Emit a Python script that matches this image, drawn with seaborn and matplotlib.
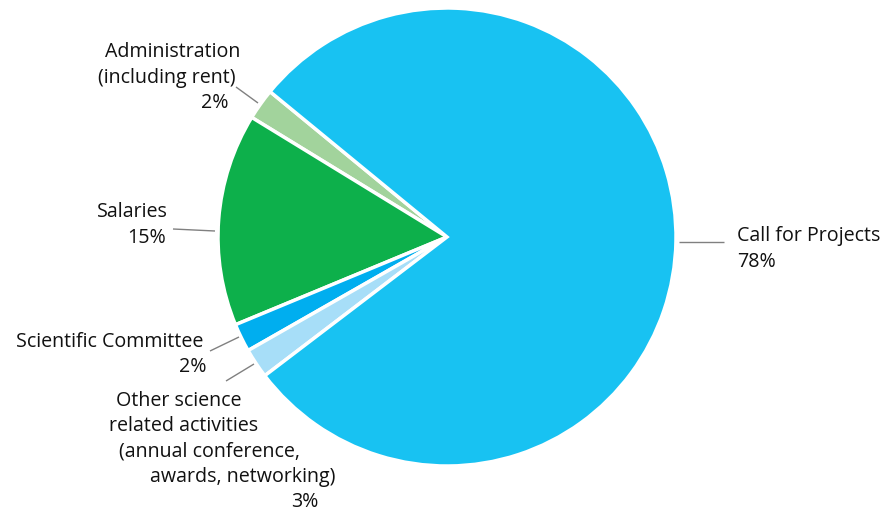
import matplotlib
matplotlib.use("Agg")
import matplotlib.pyplot as plt
import seaborn as sns

# Data
categories = ["Administration\n(including rent)", "Salaries", "Scientific Committee",
              "Other science related activities", "Call for Projects"]
values = [2.2, 15.0, 2.0, 2.1, 78.7]
pct_labels = ["2%", "15%", "2%", "3%", "78%"]
colors = ["#A2D39C", "#0DB04B", "#00AEEF", "#A7DEF8", "#18C2F2"]

sns.set_theme(style="white")
plt.rcParams["font.family"] = ["Open Sans", "DejaVu Sans"]

W, H = 886, 514
fig = plt.figure(figsize=(W / 100, H / 100), dpi=100)
cx, cy, R = 447, 237, 229
ax = fig.add_axes([(cx - R) / W, (H - cy - R) / H, 2 * R / W, 2 * R / H])
ax.pie(values, colors=colors, startangle=140.6, counterclock=True,
       wedgeprops=dict(edgecolor="white", linewidth=2.5))
ax.set_xlim(-1, 1)
ax.set_ylim(-1, 1)
ax.set_aspect("equal")
ax.axis("off")


def d(px, py):
    return (px - cx) / R, (cy - py) / R


fs = 14.1
line_kw = dict(color="#808080", lw=1, solid_capstyle="butt")


def seg(p1, p2):
    (x1, y1), (x2, y2) = d(*p1), d(*p2)
    ax.plot([x1, x2], [y1, y2], clip_on=False, **line_kw)


def txt(px, py, s, ha):
    x, y = d(px, py)
    ax.text(x, y, s, ha=ha, va="center", fontsize=fs, color="#111111", clip_on=False)


# Call for Projects
seg((679, 242), (724, 242))
txt(737, 236, categories[4], "left")
txt(737, 262, pct_labels[4], "left")

# Administration
seg((236, 87), (258, 103))
txt(240, 52, "Administration", "right")
txt(236, 78, "(including rent)", "right")
txt(229, 103, pct_labels[0], "right")

# Salaries
seg((173, 229), (215, 231))
txt(168, 212, categories[1], "right")
txt(166, 238, pct_labels[1], "right")

# Scientific Committee
seg((210, 351), (239, 337))
txt(203, 342, categories[2], "right")
txt(206, 367, pct_labels[2], "right")

# Other science related activities
seg((226, 381), (254, 364))
other_lines = ["Other science", "related activities", "(annual conference,",
               "awards, networking)"]
other_right = [242, 258, 300, 335]
other_y = [401, 426, 451, 477]
for s, r, y in zip(other_lines, other_right, other_y):
    txt(r, y, s, "right")
txt(318, 502, pct_labels[3], "right")

fig.savefig("out.png", dpi=100, facecolor="white")
